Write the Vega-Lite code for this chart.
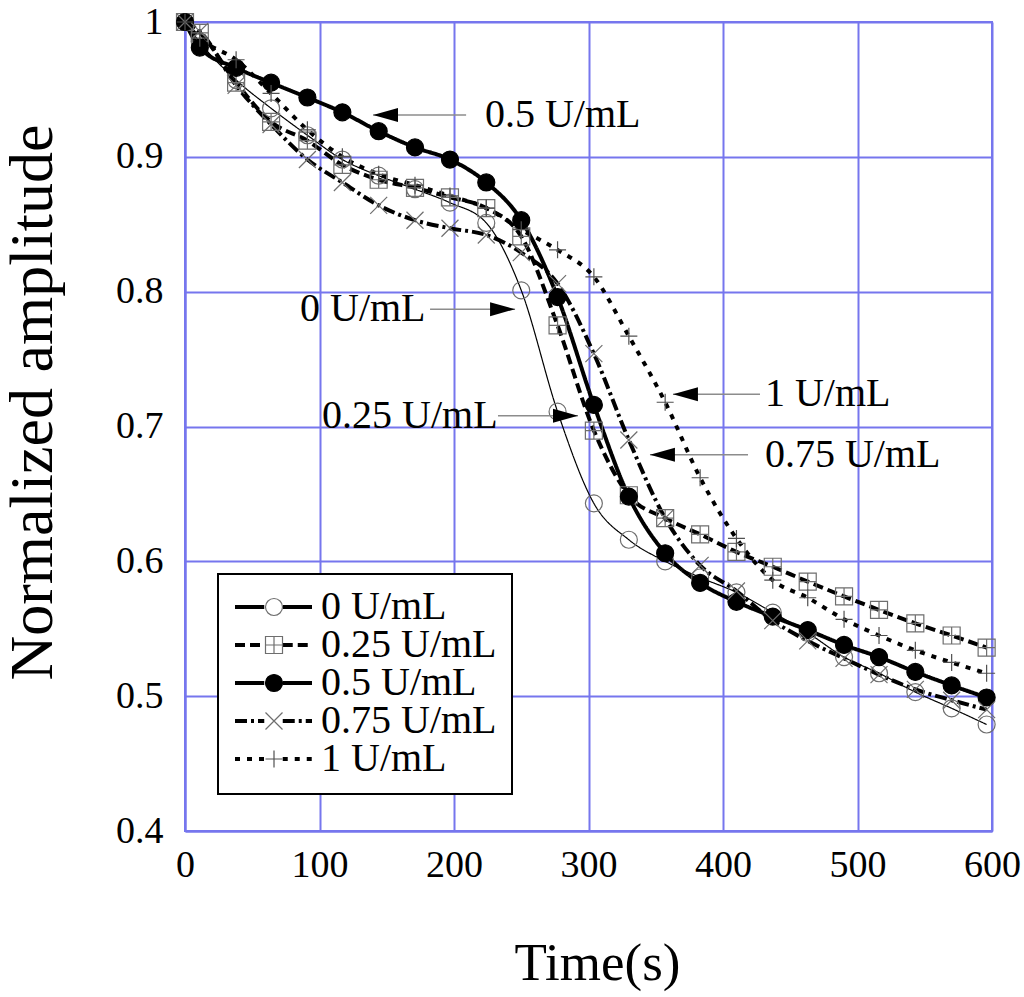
{
  "$schema": "https://vega.github.io/schema/vega-lite/v6.json",
  "width": 807,
  "height": 809,
  "autosize": {"type": "none"},
  "padding": {"left": 185, "top": 22, "right": 32, "bottom": 166},
  "background": "white",
  "config": {
    "font": "Liberation Serif",
    "view": {"stroke": "#7676ee", "strokeWidth": 2},
    "legend": {"strokeWidth": 2},
    "axis": {
      "labelFont": "Liberation Serif",
      "titleFont": "Liberation Serif",
      "labelColor": "black",
      "titleColor": "black",
      "titleFontWeight": "normal",
      "labelFontSize": 38,
      "gridColor": "#7676ee",
      "gridWidth": 2,
      "gridOpacity": 1,
      "domainColor": "#7676ee",
      "domainWidth": 2,
      "ticks": false,
      "tickSize": 0,
      "labelFlush": false,
      "labelOverlap": false
    }
  },
  "datasets": {
    "curves": [
      {"series": "0 U/mL", "t": 0, "amp": 1.0},
      {"series": "0 U/mL", "t": 11, "amp": 0.985},
      {"series": "0 U/mL", "t": 38, "amp": 0.957},
      {"series": "0 U/mL", "t": 64, "amp": 0.936},
      {"series": "0 U/mL", "t": 91, "amp": 0.916},
      {"series": "0 U/mL", "t": 117, "amp": 0.898},
      {"series": "0 U/mL", "t": 144, "amp": 0.886},
      {"series": "0 U/mL", "t": 171, "amp": 0.876},
      {"series": "0 U/mL", "t": 197, "amp": 0.866},
      {"series": "0 U/mL", "t": 224, "amp": 0.851},
      {"series": "0 U/mL", "t": 250, "amp": 0.801},
      {"series": "0 U/mL", "t": 277, "amp": 0.711},
      {"series": "0 U/mL", "t": 304, "amp": 0.643},
      {"series": "0 U/mL", "t": 330, "amp": 0.616},
      {"series": "0 U/mL", "t": 357, "amp": 0.600},
      {"series": "0 U/mL", "t": 383, "amp": 0.588},
      {"series": "0 U/mL", "t": 410, "amp": 0.577},
      {"series": "0 U/mL", "t": 437, "amp": 0.562},
      {"series": "0 U/mL", "t": 463, "amp": 0.547},
      {"series": "0 U/mL", "t": 490, "amp": 0.529},
      {"series": "0 U/mL", "t": 516, "amp": 0.517},
      {"series": "0 U/mL", "t": 543, "amp": 0.503},
      {"series": "0 U/mL", "t": 570, "amp": 0.491},
      {"series": "0 U/mL", "t": 596, "amp": 0.479},

      {"series": "0.25 U/mL", "t": 0, "amp": 1.0},
      {"series": "0.25 U/mL", "t": 11, "amp": 0.992},
      {"series": "0.25 U/mL", "t": 38, "amp": 0.955},
      {"series": "0.25 U/mL", "t": 64, "amp": 0.926},
      {"series": "0.25 U/mL", "t": 91, "amp": 0.912},
      {"series": "0.25 U/mL", "t": 117, "amp": 0.894},
      {"series": "0.25 U/mL", "t": 144, "amp": 0.883},
      {"series": "0.25 U/mL", "t": 171, "amp": 0.877},
      {"series": "0.25 U/mL", "t": 197, "amp": 0.870},
      {"series": "0.25 U/mL", "t": 224, "amp": 0.862},
      {"series": "0.25 U/mL", "t": 250, "amp": 0.841},
      {"series": "0.25 U/mL", "t": 277, "amp": 0.775},
      {"series": "0.25 U/mL", "t": 304, "amp": 0.697},
      {"series": "0.25 U/mL", "t": 330, "amp": 0.649},
      {"series": "0.25 U/mL", "t": 357, "amp": 0.632},
      {"series": "0.25 U/mL", "t": 383, "amp": 0.620},
      {"series": "0.25 U/mL", "t": 410, "amp": 0.607},
      {"series": "0.25 U/mL", "t": 437, "amp": 0.596},
      {"series": "0.25 U/mL", "t": 463, "amp": 0.585},
      {"series": "0.25 U/mL", "t": 490, "amp": 0.574},
      {"series": "0.25 U/mL", "t": 516, "amp": 0.564},
      {"series": "0.25 U/mL", "t": 543, "amp": 0.554},
      {"series": "0.25 U/mL", "t": 570, "amp": 0.545},
      {"series": "0.25 U/mL", "t": 596, "amp": 0.536},

      {"series": "0.5 U/mL", "t": 0, "amp": 1.0},
      {"series": "0.5 U/mL", "t": 11, "amp": 0.981},
      {"series": "0.5 U/mL", "t": 38, "amp": 0.966},
      {"series": "0.5 U/mL", "t": 64, "amp": 0.955},
      {"series": "0.5 U/mL", "t": 91, "amp": 0.944},
      {"series": "0.5 U/mL", "t": 117, "amp": 0.933},
      {"series": "0.5 U/mL", "t": 144, "amp": 0.919},
      {"series": "0.5 U/mL", "t": 171, "amp": 0.907},
      {"series": "0.5 U/mL", "t": 197, "amp": 0.898},
      {"series": "0.5 U/mL", "t": 224, "amp": 0.881},
      {"series": "0.5 U/mL", "t": 250, "amp": 0.853},
      {"series": "0.5 U/mL", "t": 277, "amp": 0.796},
      {"series": "0.5 U/mL", "t": 304, "amp": 0.716},
      {"series": "0.5 U/mL", "t": 330, "amp": 0.648},
      {"series": "0.5 U/mL", "t": 357, "amp": 0.606},
      {"series": "0.5 U/mL", "t": 383, "amp": 0.584},
      {"series": "0.5 U/mL", "t": 410, "amp": 0.570},
      {"series": "0.5 U/mL", "t": 437, "amp": 0.559},
      {"series": "0.5 U/mL", "t": 463, "amp": 0.549},
      {"series": "0.5 U/mL", "t": 490, "amp": 0.538},
      {"series": "0.5 U/mL", "t": 516, "amp": 0.529},
      {"series": "0.5 U/mL", "t": 543, "amp": 0.518},
      {"series": "0.5 U/mL", "t": 570, "amp": 0.508},
      {"series": "0.5 U/mL", "t": 596, "amp": 0.499},

      {"series": "0.75 U/mL", "t": 0, "amp": 1.0},
      {"series": "0.75 U/mL", "t": 11, "amp": 0.993},
      {"series": "0.75 U/mL", "t": 38, "amp": 0.953},
      {"series": "0.75 U/mL", "t": 64, "amp": 0.924},
      {"series": "0.75 U/mL", "t": 91, "amp": 0.898},
      {"series": "0.75 U/mL", "t": 117, "amp": 0.881},
      {"series": "0.75 U/mL", "t": 144, "amp": 0.864},
      {"series": "0.75 U/mL", "t": 171, "amp": 0.853},
      {"series": "0.75 U/mL", "t": 197, "amp": 0.847},
      {"series": "0.75 U/mL", "t": 224, "amp": 0.842},
      {"series": "0.75 U/mL", "t": 250, "amp": 0.829},
      {"series": "0.75 U/mL", "t": 277, "amp": 0.806},
      {"series": "0.75 U/mL", "t": 304, "amp": 0.754},
      {"series": "0.75 U/mL", "t": 330, "amp": 0.690},
      {"series": "0.75 U/mL", "t": 357, "amp": 0.632},
      {"series": "0.75 U/mL", "t": 383, "amp": 0.597},
      {"series": "0.75 U/mL", "t": 410, "amp": 0.578},
      {"series": "0.75 U/mL", "t": 437, "amp": 0.556},
      {"series": "0.75 U/mL", "t": 463, "amp": 0.541},
      {"series": "0.75 U/mL", "t": 490, "amp": 0.528},
      {"series": "0.75 U/mL", "t": 516, "amp": 0.516},
      {"series": "0.75 U/mL", "t": 543, "amp": 0.505},
      {"series": "0.75 U/mL", "t": 570, "amp": 0.497},
      {"series": "0.75 U/mL", "t": 596, "amp": 0.490},

      {"series": "1 U/mL", "t": 0, "amp": 1.0},
      {"series": "1 U/mL", "t": 11, "amp": 0.988},
      {"series": "1 U/mL", "t": 38, "amp": 0.972},
      {"series": "1 U/mL", "t": 64, "amp": 0.947},
      {"series": "1 U/mL", "t": 91, "amp": 0.920},
      {"series": "1 U/mL", "t": 117, "amp": 0.900},
      {"series": "1 U/mL", "t": 144, "amp": 0.887},
      {"series": "1 U/mL", "t": 171, "amp": 0.879},
      {"series": "1 U/mL", "t": 197, "amp": 0.871},
      {"series": "1 U/mL", "t": 224, "amp": 0.862},
      {"series": "1 U/mL", "t": 250, "amp": 0.846},
      {"series": "1 U/mL", "t": 277, "amp": 0.831},
      {"series": "1 U/mL", "t": 304, "amp": 0.811},
      {"series": "1 U/mL", "t": 330, "amp": 0.767},
      {"series": "1 U/mL", "t": 357, "amp": 0.718},
      {"series": "1 U/mL", "t": 383, "amp": 0.662},
      {"series": "1 U/mL", "t": 410, "amp": 0.617},
      {"series": "1 U/mL", "t": 437, "amp": 0.586},
      {"series": "1 U/mL", "t": 463, "amp": 0.573},
      {"series": "1 U/mL", "t": 490, "amp": 0.557},
      {"series": "1 U/mL", "t": 516, "amp": 0.545},
      {"series": "1 U/mL", "t": 543, "amp": 0.534},
      {"series": "1 U/mL", "t": 570, "amp": 0.525},
      {"series": "1 U/mL", "t": 596, "amp": 0.517}
    ],
    "notes": [
      {"label": "0.5 U/mL", "tx": 223.0, "ay": 0.931, "tip": 139.8, "tail": 209.0, "dir": "left"},
      {"label": "0 U/mL", "tx": 85.5, "ay": 0.787, "tip": 245.4, "tail": 182.2, "dir": "right"},
      {"label": "0.25 U/mL", "tx": 101.9, "ay": 0.708, "tip": 292.2, "tail": 232.7, "dir": "right"},
      {"label": "1 U/mL", "tx": 431.2, "ay": 0.724, "tip": 362.8, "tail": 427.5, "dir": "left"},
      {"label": "0.75 U/mL", "tx": 431.2, "ay": 0.679, "tip": 345.7, "tail": 418.6, "dir": "left"}
    ]
  },
  "layer": [
    {
      "data": {"name": "curves"},
      "mark": {"type": "line", "interpolate": "monotone", "color": "black"},
      "encoding": {
        "x": {
          "field": "t",
          "type": "quantitative",
          "title": "Time(s)",
          "scale": {"domain": [0, 600], "nice": false, "zero": false},
          "axis": {
            "values": [0, 100, 200, 300, 400, 500, 600],
            "labelPadding": 15,
            "titleFontSize": 53,
            "titleX": 412,
            "titleY": 132,
            "titleBaseline": "middle"
          }
        },
        "y": {
          "field": "amp",
          "type": "quantitative",
          "title": "Normalized amplitude",
          "scale": {"domain": [0.4, 1], "nice": false, "zero": false},
          "axis": {
            "values": [0.4, 0.5, 0.6, 0.7, 0.8, 0.9, 1],
            "format": ".1~f",
            "labelPadding": 22,
            "titleFontSize": 62,
            "titleX": -153,
            "titleY": 380,
            "titleBaseline": "middle"
          }
        },
        "strokeDash": {
          "field": "series",
          "type": "nominal",
          "scale": {"range": [[1, 0], [10, 5], [1, 0], [12, 4, 3, 4], [5, 7]]},
          "legend": {
            "orient": "none",
            "legendX": 33,
            "legendY": 552,
            "title": null,
            "padding": 15,
            "clipHeight": 36,
            "rowPadding": -3,
            "symbolType": "M-1,0H-0.24M0.24,0H1",
            "symbolSize": 5929,
            "symbolStrokeWidth": 4,
            "labelOffset": 7,
            "labelFont": "Liberation Serif",
            "labelFontSize": 40,
            "labelColor": "black",
            "labelLimit": 400,
            "fillColor": "white",
            "strokeColor": "black",
            "zindex": 1
          }
        },
        "strokeWidth": {
          "condition": {"test": "datum.series === '0 U/mL'", "value": 1.2},
          "value": 4
        }
      }
    },
    {
      "data": {"name": "curves"},
      "mark": {"type": "point", "size": 289, "strokeWidth": 1.2, "opacity": 1},
      "encoding": {
        "x": {"field": "t", "type": "quantitative", "title": "Time(s)"},
        "y": {"field": "amp", "type": "quantitative", "title": "Normalized amplitude"},
        "shape": {
          "field": "series",
          "type": "nominal",
          "scale": {
            "domain": ["0 U/mL", "0.25 U/mL", "0.5 U/mL", "0.75 U/mL", "1 U/mL"],
            "range": [
              "M1,0A1,1 0 1,1 -1,0A1,1 0 1,1 1,0Z",
              "M-1,-1H1V1H-1Z M0,-1V1 M-1,0H1",
              "M1,0A1,1 0 1,1 -1,0A1,1 0 1,1 1,0Z",
              "M-1,-1L1,1M-1,1L1,-1",
              "M0,-1V1M-1,0H1"
            ]
          },
          "legend": {
            "orient": "none",
            "legendX": 33,
            "legendY": 552,
            "title": null,
            "padding": 15,
            "clipHeight": 36,
            "rowPadding": -3,
            "symbolSize": 289,
            "symbolStrokeWidth": 1.2,
            "symbolOffset": 21,
            "labelOpacity": 0,
            "labelFont": "Liberation Serif",
            "labelFontSize": 40,
            "labelLimit": 400,
            "zindex": 2
          }
        },
        "fill": {
          "field": "series",
          "type": "nominal",
          "scale": {
            "domain": ["0 U/mL", "0.25 U/mL", "0.5 U/mL", "0.75 U/mL", "1 U/mL"],
            "range": ["transparent", "transparent", "black", "transparent", "transparent"]
          },
          "legend": {
            "orient": "none",
            "legendX": 33,
            "legendY": 552,
            "title": null,
            "padding": 15,
            "clipHeight": 36,
            "rowPadding": -3,
            "symbolSize": 289,
            "symbolStrokeWidth": 1.2,
            "symbolOffset": 21,
            "labelOpacity": 0,
            "labelFont": "Liberation Serif",
            "labelFontSize": 40,
            "labelLimit": 400,
            "zindex": 2
          }
        },
        "stroke": {
          "field": "series",
          "type": "nominal",
          "scale": {
            "domain": ["0 U/mL", "0.25 U/mL", "0.5 U/mL", "0.75 U/mL", "1 U/mL"],
            "range": ["#6e6e6e", "#6e6e6e", "black", "#6e6e6e", "#505050"]
          },
          "legend": {
            "orient": "none",
            "legendX": 33,
            "legendY": 552,
            "title": null,
            "padding": 15,
            "clipHeight": 36,
            "rowPadding": -3,
            "symbolSize": 289,
            "symbolStrokeWidth": 1.2,
            "symbolOffset": 21,
            "labelOpacity": 0,
            "labelFont": "Liberation Serif",
            "labelFontSize": 40,
            "labelLimit": 400,
            "zindex": 2
          }
        }
      }
    },
    {
      "data": {"name": "notes"},
      "mark": {"type": "rule", "color": "#8c8c8c", "strokeWidth": 1.5},
      "encoding": {
        "x": {"field": "tip", "type": "quantitative", "title": "Time(s)"},
        "x2": {"field": "tail"},
        "y": {"field": "ay", "type": "quantitative", "title": "Normalized amplitude"}
      }
    },
    {
      "data": {"name": "notes"},
      "transform": [{"filter": "datum.dir === 'left'"}],
      "mark": {"type": "point", "shape": "M0,0L2,-0.56L2,0.56Z", "size": 625, "filled": true, "color": "black", "opacity": 1},
      "encoding": {
        "x": {"field": "tip", "type": "quantitative", "title": "Time(s)"},
        "y": {"field": "ay", "type": "quantitative", "title": "Normalized amplitude"}
      }
    },
    {
      "data": {"name": "notes"},
      "transform": [{"filter": "datum.dir === 'right'"}],
      "mark": {"type": "point", "shape": "M0,0L-2,-0.56L-2,0.56Z", "size": 625, "filled": true, "color": "black", "opacity": 1},
      "encoding": {
        "x": {"field": "tip", "type": "quantitative", "title": "Time(s)"},
        "y": {"field": "ay", "type": "quantitative", "title": "Normalized amplitude"}
      }
    },
    {
      "data": {"name": "notes"},
      "mark": {"type": "text", "align": "left", "baseline": "middle", "font": "Liberation Serif", "fontSize": 40, "color": "black"},
      "encoding": {
        "x": {"field": "tx", "type": "quantitative", "title": "Time(s)"},
        "y": {"field": "ay", "type": "quantitative", "title": "Normalized amplitude"},
        "text": {"field": "label"}
      }
    }
  ]
}
